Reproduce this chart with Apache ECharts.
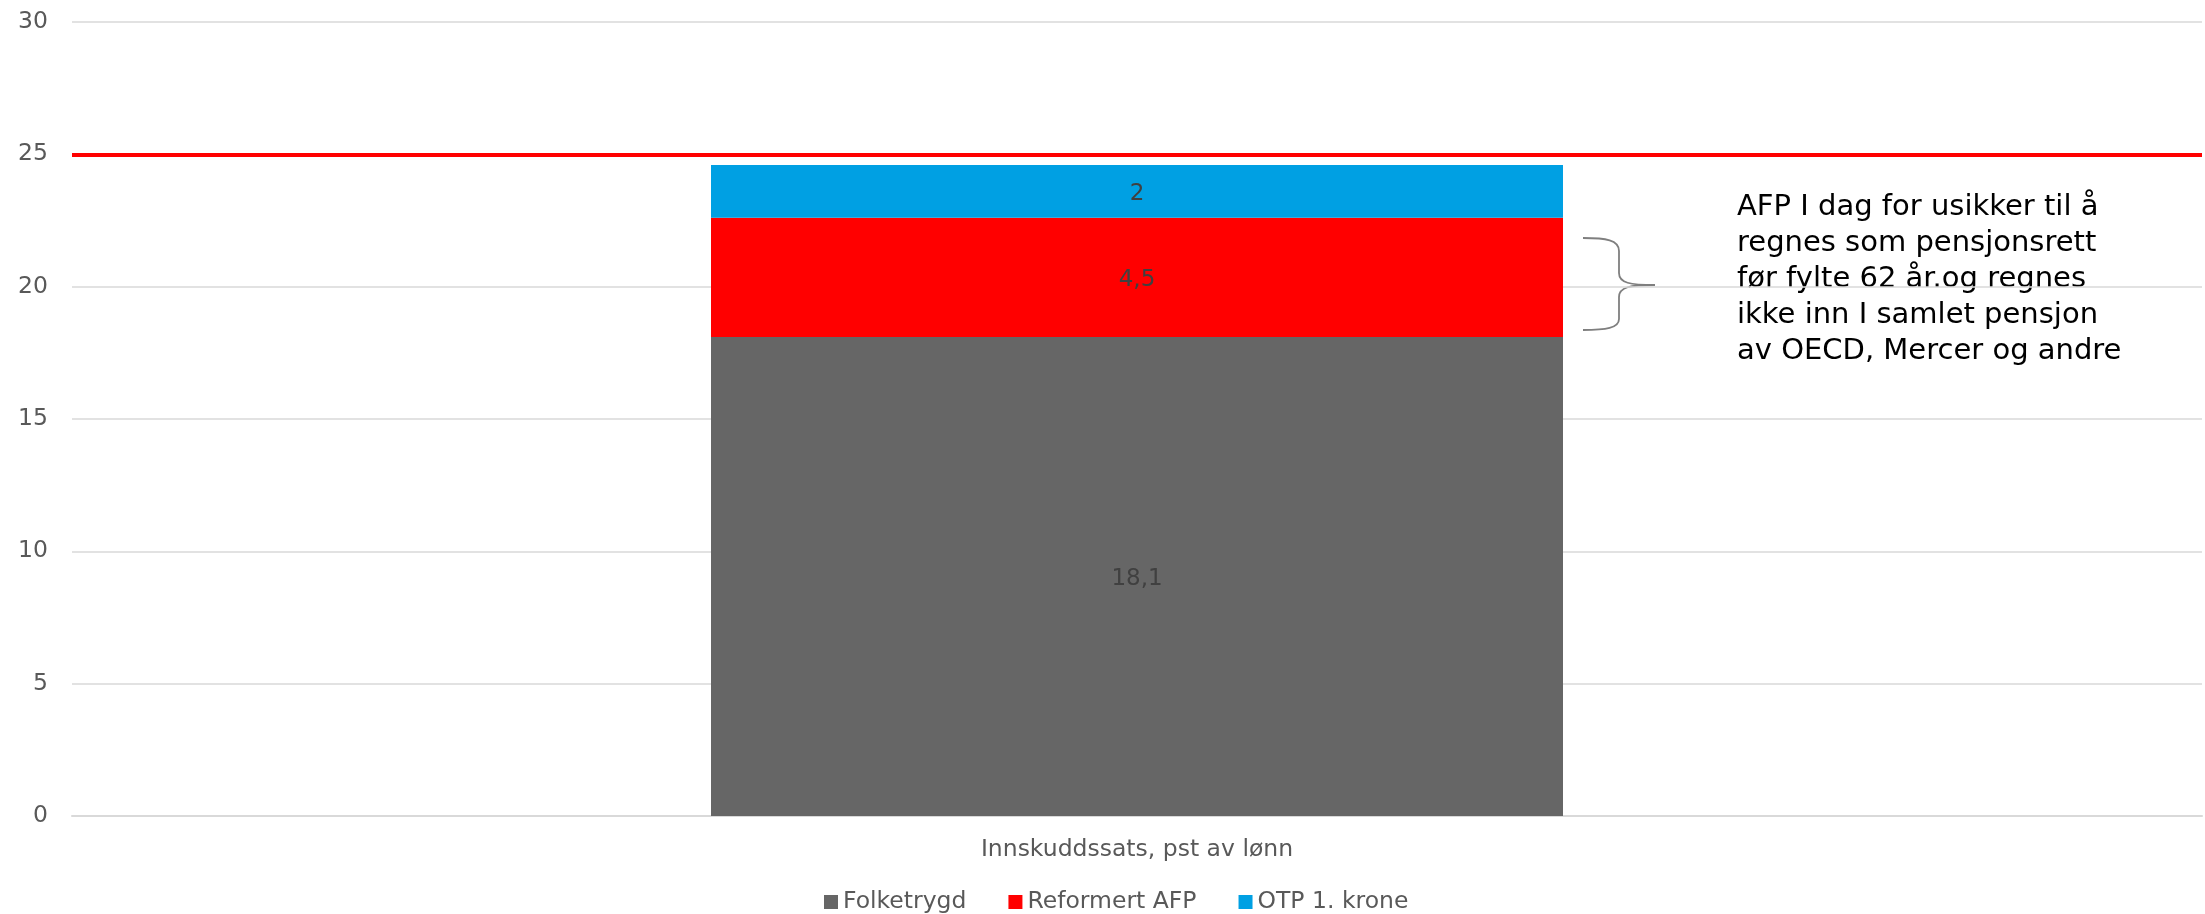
<!DOCTYPE html>
<html>
<head>
<meta charset="utf-8">
<script src="https://cdn.jsdelivr.net/npm/echarts@6/dist/echarts.min.js"></script>
<style>
html,body{margin:0;padding:0;background:#fff;}
#chart{width:2205px;height:914px;}
</style>
</head>
<body>
<div id="chart"></div>
<script>
const categories = ['Innskuddssats, pst av lønn'];
const seriesNames = ['Folketrygd', 'Reformert AFP', 'OTP 1. krone'];
const folketrygd = [18.1];
const reformertAFP = [4.5];
const otp = [2];
const referenceLevel = 25;
const yTicks = { min: 0, max: 30, interval: 5 };
const noteLines = [
  'AFP I dag for usikker til å',
  'regnes som pensjonsrett',
  'før fylte 62 år.og regnes',
  'ikke inn I samlet pensjon',
  'av OECD, Mercer og andre'
];

const FONT = 'DejaVu Sans';
const colors = ['#666666', '#ff0000', '#00a0e3'];
const labelStyle = {
  show: true,
  position: 'inside',
  offset: [0, 3],
  color: '#404040',
  fontFamily: FONT,
  fontSize: 23,
  formatter: p => String(p.value).replace('.', ',')
};

const braceStyle = { stroke: '#7f7f7f', lineWidth: 1.8, fill: null };
function curve(x1, y1, cx1, cy1, cx2, cy2, x2, y2) {
  return { type: 'bezierCurve', shape: { x1, y1, x2, y2, cpx1: cx1, cpy1: cy1, cpx2: cx2, cpy2: cy2 }, style: braceStyle, silent: true };
}
function seg(x1, y1, x2, y2) {
  return { type: 'line', shape: { x1, y1, x2, y2 }, style: braceStyle, silent: true };
}

const chart = echarts.init(document.getElementById('chart'));
chart.setOption({
  animation: false,
  backgroundColor: '#ffffff',
  color: colors,
  grid: { left: 72, right: 3, top: 22, bottom: 98, containLabel: false },
  legend: {
    data: seriesNames,
    left: 824,
    top: 890,
    padding: 0,
    icon: 'rect',
    itemWidth: 14,
    itemHeight: 14,
    itemGap: 42,
    textStyle: { color: '#595959', fontFamily: FONT, fontSize: 23.5 }
  },
  xAxis: {
    type: 'category',
    data: categories,
    axisLine: { lineStyle: { color: '#d9d9d9', width: 2 } },
    axisTick: { show: false },
    axisLabel: { color: '#595959', fontFamily: FONT, fontSize: 23.5, margin: 22 }
  },
  yAxis: {
    type: 'value',
    min: yTicks.min,
    max: yTicks.max,
    interval: yTicks.interval,
    axisLine: { show: false },
    axisTick: { show: false },
    splitLine: { lineStyle: { color: '#d9d9d9', width: 1.5 } },
    axisLabel: { color: '#595959', fontFamily: FONT, fontSize: 23.5, margin: 24 }
  },
  series: [
    {
      name: seriesNames[0], type: 'bar', stack: 'total', barWidth: '40%',
      data: folketrygd, label: labelStyle,
      markLine: {
        silent: true,
        symbol: ['none', 'none'],
        label: { show: false },
        lineStyle: { color: '#ff0000', width: 4, type: 'solid' },
        data: [{ yAxis: referenceLevel }]
      }
    },
    { name: seriesNames[1], type: 'bar', stack: 'total', barWidth: '40%', data: reformertAFP, label: labelStyle },
    { name: seriesNames[2], type: 'bar', stack: 'total', barWidth: '40%', data: otp, label: labelStyle }
  ],
  graphic: [
    curve(1583, 238, 1606, 238, 1619, 240, 1619, 251),
    seg(1619, 251, 1619, 273),
    curve(1619, 273, 1619, 283, 1630, 285, 1655, 285),
    curve(1655, 285, 1630, 285, 1619, 287, 1619, 297),
    seg(1619, 297, 1619, 319),
    curve(1619, 319, 1619, 328, 1606, 330, 1583, 330),
    {
      type: 'text',
      left: 1737,
      top: 189,
      style: {
        text: noteLines.join('\n'),
        fill: '#000000',
        fontFamily: FONT,
        fontSize: 29,
        lineHeight: 36
      }
    }
  ]
});
</script>
</body>
</html>
